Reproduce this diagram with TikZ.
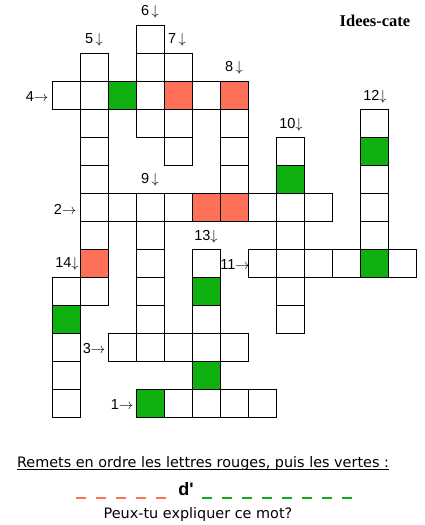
\documentclass[tikz,border=0pt]{standalone}
\usepackage{fontspec}
\setmainfont{Liberation Sans}
\newfontfamily\bottomfont{DejaVu Sans}
\newfontfamily\titlefont{Liberation Serif}
\newfontfamily\dfont[Ligatures=TeXOff]{Liberation Sans}
\begin{document}
\begin{tikzpicture}[x=1pt,y=-1pt,
  box/.style={draw=black,line width=1pt,fill=white},
  redbox/.style={box,fill=redc},
  greenbox/.style={box,fill=greenc},
  lbl/.style={inner sep=0pt,font=\fontsize{14.5}{14.5}\selectfont},
  reddash/.style={draw=redc,line width=2.2pt},
  greendash/.style={draw=greenc,line width=2.2pt}]
\definecolor{redc}{HTML}{FF7058}
\definecolor{greenc}{HTML}{10B010}
\useasboundingbox (0,0) rectangle (424,525);
\newcommand{\cellw}[2]{\path[box] ({52+28*#1},{25+28*#2}) rectangle ++(28,28);}
\newcommand{\cellr}[2]{\path[redbox] ({52+28*#1},{25+28*#2}) rectangle ++(28,28);}
\newcommand{\cellg}[2]{\path[greenbox] ({52+28*#1},{25+28*#2}) rectangle ++(28,28);}
\newcommand{\da}{$\downarrow$}
\newcommand{\ra}{$\rightarrow$}
% white cells
\foreach \c/\r in {0/2,1/2,3/2,5/2,
  1/1,1/3,1/4,1/5,1/7,1/9,
  3/0,3/1,3/3, 4/1,4/3,4/4, 6/3,6/4,6/5,
  1/6,2/6,3/6,4/6,7/6,8/6,9/6,
  3/7,3/8,3/9,3/10,
  0/9,0/11,0/12,0/13,
  2/11,3/11,4/11,5/11,6/11,
  5/8,5/10,
  4/13,5/13,6/13,7/13,
  8/4,8/7,8/9,8/10,
  11/3,11/5,11/6,11/7,
  7/8,8/8,9/8,10/8,12/8}
  {\cellw{\c}{\r}}
% red cells
\foreach \c/\r in {4/2,6/2,5/6,6/6,1/8} {\cellr{\c}{\r}}
% green cells
\foreach \c/\r in {2/2,0/10,5/9,5/12,3/13,8/5,11/4,11/8} {\cellg{\c}{\r}}
% labels
\node[lbl] (l6) at (150,12) {6\,\da};
\node[lbl] (l5) at (94,40) {5\,\da};
\node[lbl] (l7) at (177,40) {7\,\da};
\node[lbl] (l8) at (234,68) {8\,\da};
\node[lbl] (l4) at (37,97) {4\ra};
\node[lbl] (l9) at (150,180) {9\,\da};
\node[lbl] (l2) at (65,209) {2\ra};
\node[lbl] (l10) at (291,125) {10\da};
\node[lbl] (l12) at (375,97) {12\da};
\node[lbl] (l13) at (206,237) {13\da};
\node[lbl] (l11) at (235,265) {11\ra};
\node[lbl] (l14) at (67,264) {14\da};
\node[lbl] (l3) at (94,349) {3\ra};
\node[lbl] (l1) at (122,405) {1\ra};
% title
\node[inner sep=0pt,font=\titlefont\bfseries\fontsize{16.5}{16.5}\selectfont] (title) at (375,21) {Idees-cate};
% bottom text
\node[inner sep=0pt,font=\bottomfont\fontsize{14.4}{14.4}\selectfont] (instr) at (203,464) {Remets en ordre les lettres rouges, puis les vertes :};
\draw[line width=1pt] ([yshift=-2pt]instr.base west) -- ([yshift=-2pt]instr.base east);
\node[inner sep=0pt,font=\dfont\bfseries\fontsize{18}{18}\selectfont] (d) at (186,489) {d'};
\foreach \i in {0,...,4} {\path[reddash] ({76+20*\i},498) -- ++(10,0);}
\foreach \i in {0,...,7} {\path[greendash] ({202+20*\i},498) -- ++(10,0);}
\node[inner sep=0pt,font=\bottomfont\fontsize{14.4}{14.4}\selectfont] (q) at (198,515) {Peux-tu expliquer ce mot?};
\end{tikzpicture}
\end{document}
